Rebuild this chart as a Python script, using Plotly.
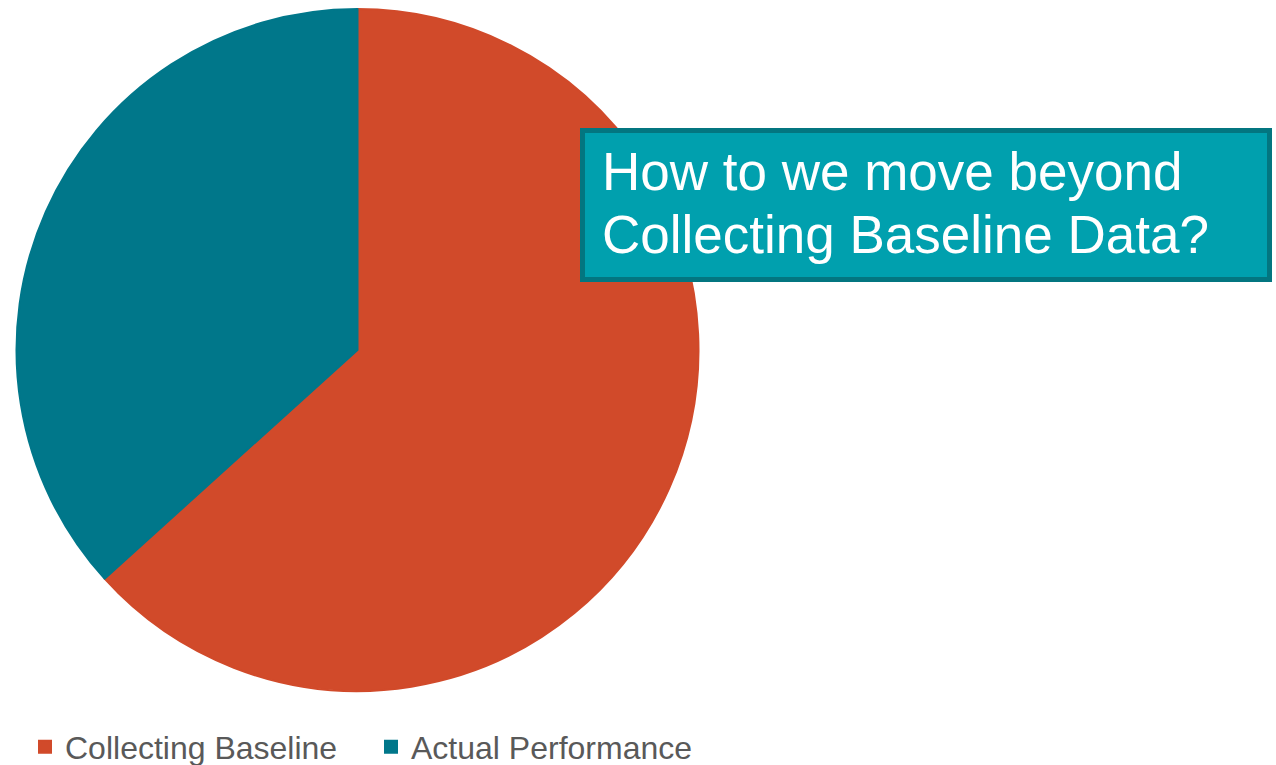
import plotly.graph_objects as go

labels = ["Collecting Baseline", "Actual Performance"]
values = [63.3, 36.7]
colors = ["#D14A2A", "#00778A"]
box_lines = ["How to we move beyond", "Collecting Baseline Data?"]

W, H = 1276, 765
fig = go.Figure()
fig.add_trace(go.Pie(
    labels=labels, values=values, sort=False, direction="clockwise", rotation=0,
    marker=dict(colors=colors, line=dict(width=2, color=colors)),
    textinfo="none", hoverinfo="label+percent",
    domain=dict(x=[16.5 / W, 698.5 / W], y=[1 - 691 / H, 1 - 9 / H]),
))

x0, x1, y0, y1 = 582.5, 1269.5, 130.5, 279.5
fig.add_shape(type="rect", xref="paper", yref="paper",
              x0=x0 / W, x1=x1 / W, y0=1 - y1 / H, y1=1 - y0 / H,
              fillcolor="#00A0AE", line=dict(color="#037680", width=5), layer="above")
for i, line in enumerate(box_lines):
    fig.add_annotation(xref="paper", yref="paper", x=600 / W, y=1 - (172 + 62 * i) / H,
                       xanchor="left", yanchor="middle", align="left", showarrow=False,
                       text=line,
                       font=dict(family="Liberation Sans", size=53, color="white"))

fig.update_layout(
    width=W, height=H, margin=dict(l=0, r=0, t=0, b=0, autoexpand=False),
    paper_bgcolor="white", plot_bgcolor="white",
    showlegend=True,
    legend=dict(orientation="h", x=0.0196, xanchor="left", y=1 - 747 / H, yanchor="middle",
                font=dict(family="Liberation Sans", size=32, color="#595959"),
                traceorder="normal", entrywidth=301, entrywidthmode="pixels"),
)
fig.write_html("out.html")
